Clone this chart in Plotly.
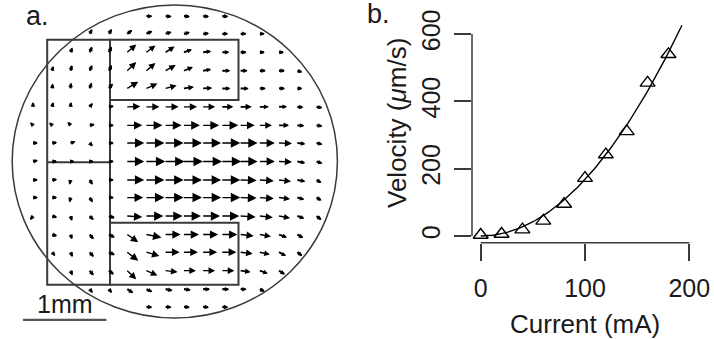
import numpy as np
import plotly.graph_objects as go

# ---------------- panel b: speed vs. drive current ----------------
current_mA = [0, 20, 40, 60, 80, 100, 120, 140, 160, 180]
velocity_um_s = [3, 6, 19, 45, 95, 172, 242, 311, 455, 540]

x_ticks = [0, 100, 200]
y_ticks = [0, 200, 400, 600]

# ---------------- panel a: measured flow field ----------------
# sample positions (mm, origin at dish centre)
grid_x_mm = [-1.70, -1.47, -1.25, -1.02, -0.79, -0.57, -0.34, -0.11,
             0.11, 0.34, 0.57, 0.79, 1.02, 1.25, 1.47, 1.70]
grid_y_mm = [1.81, 1.59, 1.36, 1.13, 0.91, 0.68, 0.45, 0.23, 0.0,
             -0.23, -0.45, -0.68, -0.91, -1.13, -1.36, -1.59, -1.81]

N = None
# horizontal flow component per grid row (top to bottom)
flow_u = [
    [N, N, N, N, N, N, 6, 6, 6, 6, 6, N, N, N, N, N],
    [N, N, N, 2.5, 3, 5, 6, 6, 6, 6, 6, 6, 5, N, N, N],
    [N, N, 2, 2.5, 3, 9, 9, 9, 8, 8, 7, 6, 5, 5, N, N],
    [N, 1, 1.5, 2.5, 3, 9, 9, 10, 9, 8, 8, 7, 6, 6, 5, N],
    [N, 0.5, 0.5, 2, 4, 11, 11, 11, 10, 9, 8, 8, 6, 6, 5, N],
    [0, 1, 0.5, 3, 5, 13, 13, 13, 13, 12, 11, 11, 9, 8, 6, 6],
    [-3, -3, -3, 5, 5, 15, 16, 16, 16, 16, 16, 14, 12, 10, 7, 6],
    [5, 5, 5, 3, 5, 17, 18, 18, 18, 18, 18, 17, 15, 13, 8, 6],
    [5, 5, 4, 4, 5, 17, 19, 19, 19, 19, 19, 17, 15, 13, 8, 6],
    [5, 5, -1, 3, 5, 17, 18, 18, 18, 18, 18, 16, 14, 12, 8, 5],
    [5, 5, -1, 3, 5, 16, 18, 18, 18, 18, 18, 16, 14, 11, 7, 5],
    [-3, 5, 1.5, 4, 6, 15, 17, 17, 17, 17, 17, 15, 13, 11, 7, 5],
    [N, 5, 1.5, 4, 6, 11, 15, 15, 15, 15, 15, 13, 11, 8, 6, N],
    [N, 3, 2, 4, 6, 11, 13, 14, 14, 14, 14, 12, 10, 7, 5, N],
    [N, N, 2, 4, 5, 9, 11, 12, 12, 12, 12, 10, 8, 6, N, N],
    [N, N, N, 3, 3, 6, 6, 7, 7, 7, 7, 6, 5, N, N, N],
    [N, N, N, N, N, N, 6, 6, 6, 6, 6, N, N, N, N, N],
]
# vertical flow component per grid row (positive = up)
flow_v = [
    [N, N, N, N, N, N, 0, -0.5, -0.5, -0.5, -0.5, N, N, N, N, N],
    [N, N, N, 5, 5, 4, 3, 2, 1.5, 0.5, 0, 0, 0, N, N, N],
    [N, N, 5, 6, 6, 8, 7, 6, 3, 1, 0, 0, 0, 0, N, N],
    [N, 5, 6, 6, 6, 9, 8, 6, 4, 1.5, 0, 0, 0, 0, -1.5, N],
    [N, 5, 6, 6, 5, 7, 5, 3, 1.5, 0.5, 0, 0, 0, 0, 0, N],
    [5, 5, 5, 4, 1, 0.5, 0, 0, 0, 0, 0, 0, 0, 0, -0.5, -1],
    [3, 3, 3.5, 1, 0, 0, 0, 0, 0, 0, 0, 0, 0, 0, -0.5, -1],
    [0, 0.5, 1.5, -3.5, 0, 0, 0, 0, 0, 0, 0, 0, 0, -0.5, -1, -1.5],
    [1, 0, 0, 0, 0, 0, 0, 0, 0, 0, 0, 0, 0, -0.5, -1.5, -2],
    [0, 0.5, -5, -5, 0, 0, 0, 0, 0, 0, 0, -0.5, -1, -1.5, -1.5, -3],
    [0, 0, -5, -5, 0, 0, 0, 0, 0, 0, 0, -0.5, -1, -1.5, -2, -3],
    [-4, -1.5, -5, -4, -2, -1, 0, 0, 0, 0, 0, -1, -1.5, -2, -2.5, -4],
    [N, -1.5, -5, -5, -3, -8, -3, 0, 0, 0, 0, -1.5, -2, -3, -3.5, N],
    [N, -4, -5, -5, -3, -9, -4, 0, 0, 0, 0, -1.5, -2.5, -4, -4, N],
    [N, N, -5, -5, -4, -9, -5, -1.5, 0, 0, 0, -1.5, -3, -4, N, N],
    [N, N, N, -4, -4, -4, -3, -1.5, -1, 0, 0, 0, -2.5, N, N, N],
    [N, N, N, N, N, N, -0.5, -0.5, -0.5, -0.5, -0.5, N, N, N, N, N],
]

# drawing constants
W, H = 714, 339
FONT = "Liberation Sans"
INK = "#1a1a1a"
LINE = "#3a3a3a"
ARROW_MM_PER_UNIT = 0.012          # arrow length per flow unit
ARROW_PX_PER_UNIT = 1.0            # same length on screen (approx.)
HEAD_MIN_PX, HEAD_MAX_PX = 4.5, 9.5
SHAFT_SHORT_W, SHAFT_LONG_W = 2.3, 1.4
DISH_RADIUS_MM = 1.95
SCALE_BAR_MM = 1.0

fig = go.Figure()

# ---- panel a axes (mm) ----
fig.update_layout(
    xaxis2=dict(domain=[0, 350 / W], range=[-2.096, 2.101], visible=False,
                anchor="y2"),
    yaxis2=dict(domain=[0, 1], range=[-2.211, 2.011], visible=False,
                anchor="x2"),
)
# invisible anchor trace so the second axis pair is laid out
fig.add_trace(go.Scatter(x=[0], y=[0], xaxis="x2", yaxis="y2", mode="markers",
                         marker=dict(size=1, opacity=0), hoverinfo="skip"))

shapes = []
# dish outline
shapes.append(dict(type="circle", xref="x2", yref="y2",
                   x0=-DISH_RADIUS_MM, x1=DISH_RADIUS_MM,
                   y0=-DISH_RADIUS_MM, y1=DISH_RADIUS_MM,
                   line=dict(color=LINE, width=1.5)))
# electrode outlines
left_x0, left_x1 = -1.53, -0.777
right_x1 = 0.764
top_y, bot_y = 1.515, -1.535
upper_y0, lower_y1 = 0.766, -0.762
for (x0, x1, y0, y1) in [(left_x0, left_x1, bot_y, top_y),
                         (left_x1, right_x1, upper_y0, top_y),
                         (left_x1, right_x1, bot_y, lower_y1)]:
    shapes.append(dict(type="rect", xref="x2", yref="y2", x0=x0, x1=x1,
                       y0=y0, y1=y1, line=dict(color=LINE, width=2)))
shapes.append(dict(type="line", xref="x2", yref="y2", x0=left_x0, x1=left_x1,
                   y0=-0.01, y1=-0.01, line=dict(color=LINE, width=2)))
# scale bar
sb_x0, sb_y = -1.82, -1.974
shapes.append(dict(type="line", xref="x2", yref="y2", x0=sb_x0,
                   x1=sb_x0 + SCALE_BAR_MM, y0=sb_y, y1=sb_y,
                   line=dict(color="#555555", width=2.2)))

annotations = []
# flow arrows: head grows with arrow length, short arrows get a heavier stroke
for r, gy in enumerate(grid_y_mm):
    for c, gx in enumerate(grid_x_mm):
        u, v = flow_u[r][c], flow_v[r][c]
        if u is None:
            continue
        length_px = np.hypot(u, v) * ARROW_PX_PER_UNIT
        head_px = min(HEAD_MAX_PX, max(HEAD_MIN_PX, 0.55 * length_px))
        t = np.clip((length_px - 6.0) / 6.0, 0.0, 1.0)
        shaft_w = SHAFT_SHORT_W + t * (SHAFT_LONG_W - SHAFT_SHORT_W)
        annotations.append(dict(
            xref="x2", yref="y2", axref="x2", ayref="y2",
            x=gx + u * ARROW_MM_PER_UNIT, y=gy + v * ARROW_MM_PER_UNIT,
            ax=gx, ay=gy, text="", showarrow=True,
            font=dict(size=1), borderpad=0, borderwidth=0,
            arrowhead=2, arrowsize=head_px / (5 * shaft_w),
            arrowwidth=shaft_w, arrowcolor="black",
            standoff=0, startstandoff=0))

# ---- panel b ----
I = np.array(current_mA, dtype=float)
vel = np.array(velocity_um_s, dtype=float)
k = np.sum(vel * I ** 2) / np.sum(I ** 4)      # least-squares v = k I^2
I_fit = np.linspace(0, 193, 120)
fig.add_trace(go.Scatter(x=I_fit, y=k * I_fit ** 2, mode="lines",
                         line=dict(color="black", width=1.4),
                         hoverinfo="skip"))
fig.add_trace(go.Scatter(x=current_mA, y=velocity_um_s, mode="markers",
                         marker=dict(symbol="triangle-up-open", size=13,
                                     color="black", line=dict(width=1.4))))

axis_common = dict(showgrid=False, zeroline=False, showline=False,
                   ticks="outside", ticklen=17, tickwidth=1.5,
                   tickcolor=LINE, tickfont=dict(family=FONT, size=25,
                                                 color=INK))
fig.update_layout(
    xaxis=dict(domain=[472 / W, 1], range=[-8.34, 223.7], tickvals=x_ticks,
               anchor="y", ticklabelstandoff=6, **axis_common),
    yaxis=dict(domain=[1 - 242.7 / H, 1], range=[-19.9, 701.3],
               tickvals=y_ticks, tickangle=-90, anchor="x",
               ticklabelstandoff=4, **axis_common),
)
# R-style axis lines spanning first to last tick
shapes.append(dict(type="line", xref="x", yref="y domain", x0=x_ticks[0],
                   x1=x_ticks[-1], y0=0, y1=0,
                   line=dict(color=LINE, width=1.5)))
shapes.append(dict(type="line", xref="x domain", yref="y", x0=0, x1=0,
                   y0=y_ticks[0], y1=y_ticks[-1],
                   line=dict(color=LINE, width=1.5)))

def label(text, px, py, size, angle=0):
    annotations.append(dict(text=text, x=px / W, y=1 - py / H, xref="paper",
                            yref="paper", showarrow=False, textangle=angle,
                            xanchor="center", yanchor="middle",
                            font=dict(family=FONT, size=size, color=INK)))

label("a.", 37, 16.5, 27)
label("b.", 378, 14, 27)
label("1mm", 65, 304, 25)
label("Current (mA)", 585, 324, 26)
label("Velocity (<i>μ</i>m/s)", 397, 123, 26, angle=-90)

fig.update_layout(width=W, height=H, margin=dict(l=0, r=0, t=0, b=0),
                  paper_bgcolor="white", plot_bgcolor="white",
                  showlegend=False, shapes=shapes, annotations=annotations)

fig.write_html("out.html")
